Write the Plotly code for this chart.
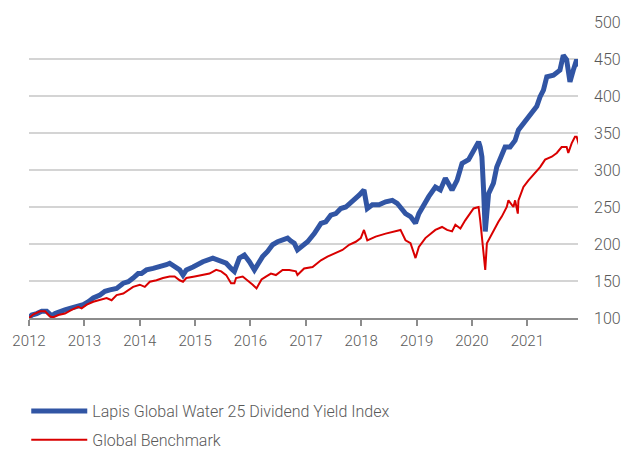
import plotly.graph_objects as go
import pandas as pd

# Decimal years and index levels
lapis_years = [2012.00, 2012.05, 2012.14, 2012.23, 2012.32, 2012.41, 2012.47, 2012.56, 2012.65, 2012.74,
               2012.86, 2012.98, 2013.07, 2013.16, 2013.28, 2013.37, 2013.46, 2013.58, 2013.70, 2013.79,
               2013.88, 2013.97, 2014.03, 2014.12, 2014.24, 2014.36, 2014.48, 2014.54, 2014.63, 2014.72,
               2014.78, 2014.84, 2014.96, 2015.14, 2015.32, 2015.44, 2015.56, 2015.65, 2015.71, 2015.80,
               2015.89, 2015.98, 2016.07, 2016.13, 2016.22, 2016.31, 2016.40, 2016.49, 2016.58, 2016.67,
               2016.73, 2016.79, 2016.85, 2016.91, 2017.03, 2017.15, 2017.27, 2017.36, 2017.45, 2017.54,
               2017.63, 2017.72, 2017.84, 2017.96, 2018.05, 2018.11, 2018.20, 2018.32, 2018.44, 2018.56,
               2018.65, 2018.74, 2018.80, 2018.89, 2018.98, 2019.04, 2019.13, 2019.22, 2019.34, 2019.43,
               2019.52, 2019.64, 2019.73, 2019.82, 2019.94, 2020.03, 2020.12, 2020.15, 2020.18, 2020.21,
               2020.24, 2020.30, 2020.39, 2020.45, 2020.54, 2020.60, 2020.69, 2020.78, 2020.84, 2020.99,
               2021.08, 2021.17, 2021.23, 2021.29, 2021.35, 2021.47, 2021.59, 2021.65, 2021.71, 2021.77,
               2021.83, 2021.89, 2021.92]
lapis_values = [100, 104, 106, 109, 109, 103, 106, 109, 111, 113,
                115, 118, 122, 127, 131, 136, 138, 140, 147, 149,
                154, 160, 160, 165, 167, 169, 172, 174, 169, 165,
                158, 165, 169, 176, 181, 178, 174, 167, 163, 181,
                185, 176, 165, 172, 183, 190, 199, 203, 205, 208,
                204, 201, 192, 196, 203, 214, 228, 230, 239, 241,
                248, 250, 257, 266, 273, 248, 253, 253, 257, 259,
                255, 248, 241, 237, 228, 241, 253, 264, 277, 273,
                289, 273, 286, 309, 314, 327, 338, 331, 318, 273,
                217, 268, 282, 304, 318, 331, 331, 340, 354, 368,
                379, 386, 399, 408, 426, 428, 435, 455, 449, 419,
                435, 449, 440]

bench_years = [2012.00, 2012.08, 2012.20, 2012.29, 2012.38, 2012.44, 2012.53, 2012.65, 2012.77, 2012.89,
               2012.95, 2013.04, 2013.16, 2013.28, 2013.40, 2013.49, 2013.58, 2013.70, 2013.79, 2013.88,
               2014.00, 2014.09, 2014.18, 2014.30, 2014.42, 2014.54, 2014.63, 2014.72, 2014.78, 2014.84,
               2014.99, 2015.14, 2015.26, 2015.38, 2015.47, 2015.56, 2015.65, 2015.71, 2015.74, 2015.86,
               2015.95, 2016.04, 2016.11, 2016.20, 2016.28, 2016.37, 2016.46, 2016.58, 2016.70, 2016.82,
               2016.85, 2016.97, 2017.12, 2017.27, 2017.39, 2017.51, 2017.66, 2017.78, 2017.90, 2017.99,
               2018.05, 2018.11, 2018.26, 2018.44, 2018.62, 2018.71, 2018.80, 2018.89, 2018.98, 2019.04,
               2019.16, 2019.34, 2019.46, 2019.55, 2019.64, 2019.70, 2019.79, 2019.88, 2020.03, 2020.12,
               2020.15, 2020.21, 2020.24, 2020.27, 2020.33, 2020.42, 2020.48, 2020.54, 2020.63, 2020.66,
               2020.75, 2020.78, 2020.83, 2020.84, 2020.93, 2021.02, 2021.08, 2021.14, 2021.23, 2021.32,
               2021.44, 2021.53, 2021.62, 2021.71, 2021.74, 2021.80, 2021.86, 2021.89, 2021.93]
bench_values = [100, 105, 109, 109, 102, 101, 104, 106, 111, 115,
                113, 118, 122, 124, 127, 124, 131, 133, 138, 142,
                145, 142, 149, 151, 154, 156, 156, 151, 149, 154,
                156, 158, 160, 165, 163, 158, 147, 147, 154, 156,
                151, 145, 140, 152, 156, 160, 158, 165, 165, 163,
                158, 167, 169, 178, 183, 187, 192, 199, 203, 208,
                219, 205, 210, 214, 217, 219, 205, 201, 181, 196,
                208, 219, 223, 219, 217, 226, 221, 232, 248, 250,
                232, 187, 165, 201, 210, 223, 230, 237, 250, 259,
                250, 259, 241, 259, 277, 286, 291, 296, 304, 314,
                318, 323, 331, 331, 323, 336, 345, 345, 334]

series_names = ["Lapis Global Water 25 Dividend Yield Index", "Global Benchmark"]
y_ticks = [100, 150, 200, 250, 300, 350, 400, 450, 500]
x_tick_years = [2012, 2013, 2014, 2015, 2016, 2017, 2018, 2019, 2020, 2021]


def to_dates(years):
    out = []
    for y in years:
        base = pd.Timestamp(year=int(y), month=1, day=1)
        out.append(base + pd.Timedelta(days=round((y - int(y)) * 365.25)))
    return out


FONT = "Roboto, Liberation Sans, sans-serif"
GREY = "#595959"

fig = go.Figure()
fig.add_trace(go.Scatter(x=to_dates(lapis_years), y=lapis_values, mode="lines",
                         name=series_names[0], line=dict(color="#3155A4", width=5),
                         legendgroup="a"))
fig.add_trace(go.Scatter(x=to_dates(bench_years), y=bench_values, mode="lines",
                         name=series_names[1], line=dict(color="#D90000", width=2),
                         legendgroup="b"))

# figure is a little taller than the window so the legend never forces a margin push;
# the extra strip below 451 px is blank and falls outside the viewport
fig.update_layout(
    width=634, height=480,
    margin=dict(l=27, r=56, t=22, b=162),
    paper_bgcolor="white", plot_bgcolor="white",
    font=dict(family=FONT, size=15, color=GREY, weight=300),
    showlegend=True,
    legend=dict(orientation="v", x=-0.005, xanchor="left", y=-0.257, yanchor="top",
                font=dict(family=FONT, size=16, color=GREY, weight=300),
                itemwidth=56, tracegroupgap=5, traceorder="grouped",
                bgcolor="rgba(0,0,0,0)"),
    xaxis=dict(
        type="date",
        range=[pd.Timestamp("2012-01-01"), pd.Timestamp("2021-12-01")],
        tickvals=[pd.Timestamp(year=y, month=1, day=1) for y in x_tick_years],
        ticktext=[str(y) for y in x_tick_years],
        showgrid=False, showline=True, linecolor="#8c8c8c", linewidth=1.5,
        ticks="outside", ticklen=6, tickwidth=1.5, tickcolor="#8c8c8c",
        ticklabelstandoff=2,
        tickfont=dict(family=FONT, size=15, color=GREY, weight=300),
        zeroline=False,
    ),
    yaxis=dict(
        side="right", range=[100, 500], tickvals=y_ticks,
        showgrid=True, gridcolor="#d4d4d4", gridwidth=1.5,
        showline=False, zeroline=False, ticks="",
        ticklabelstandoff=15,
        tickfont=dict(family=FONT, size=16, color=GREY, weight=300),
    ),
)

fig.write_html("out.html", config={"displayModeBar": False},
               post_script="document.body.style.margin='0px';"
                           "document.body.style.overflow='hidden';"
                           "document.documentElement.style.overflow='hidden';")
